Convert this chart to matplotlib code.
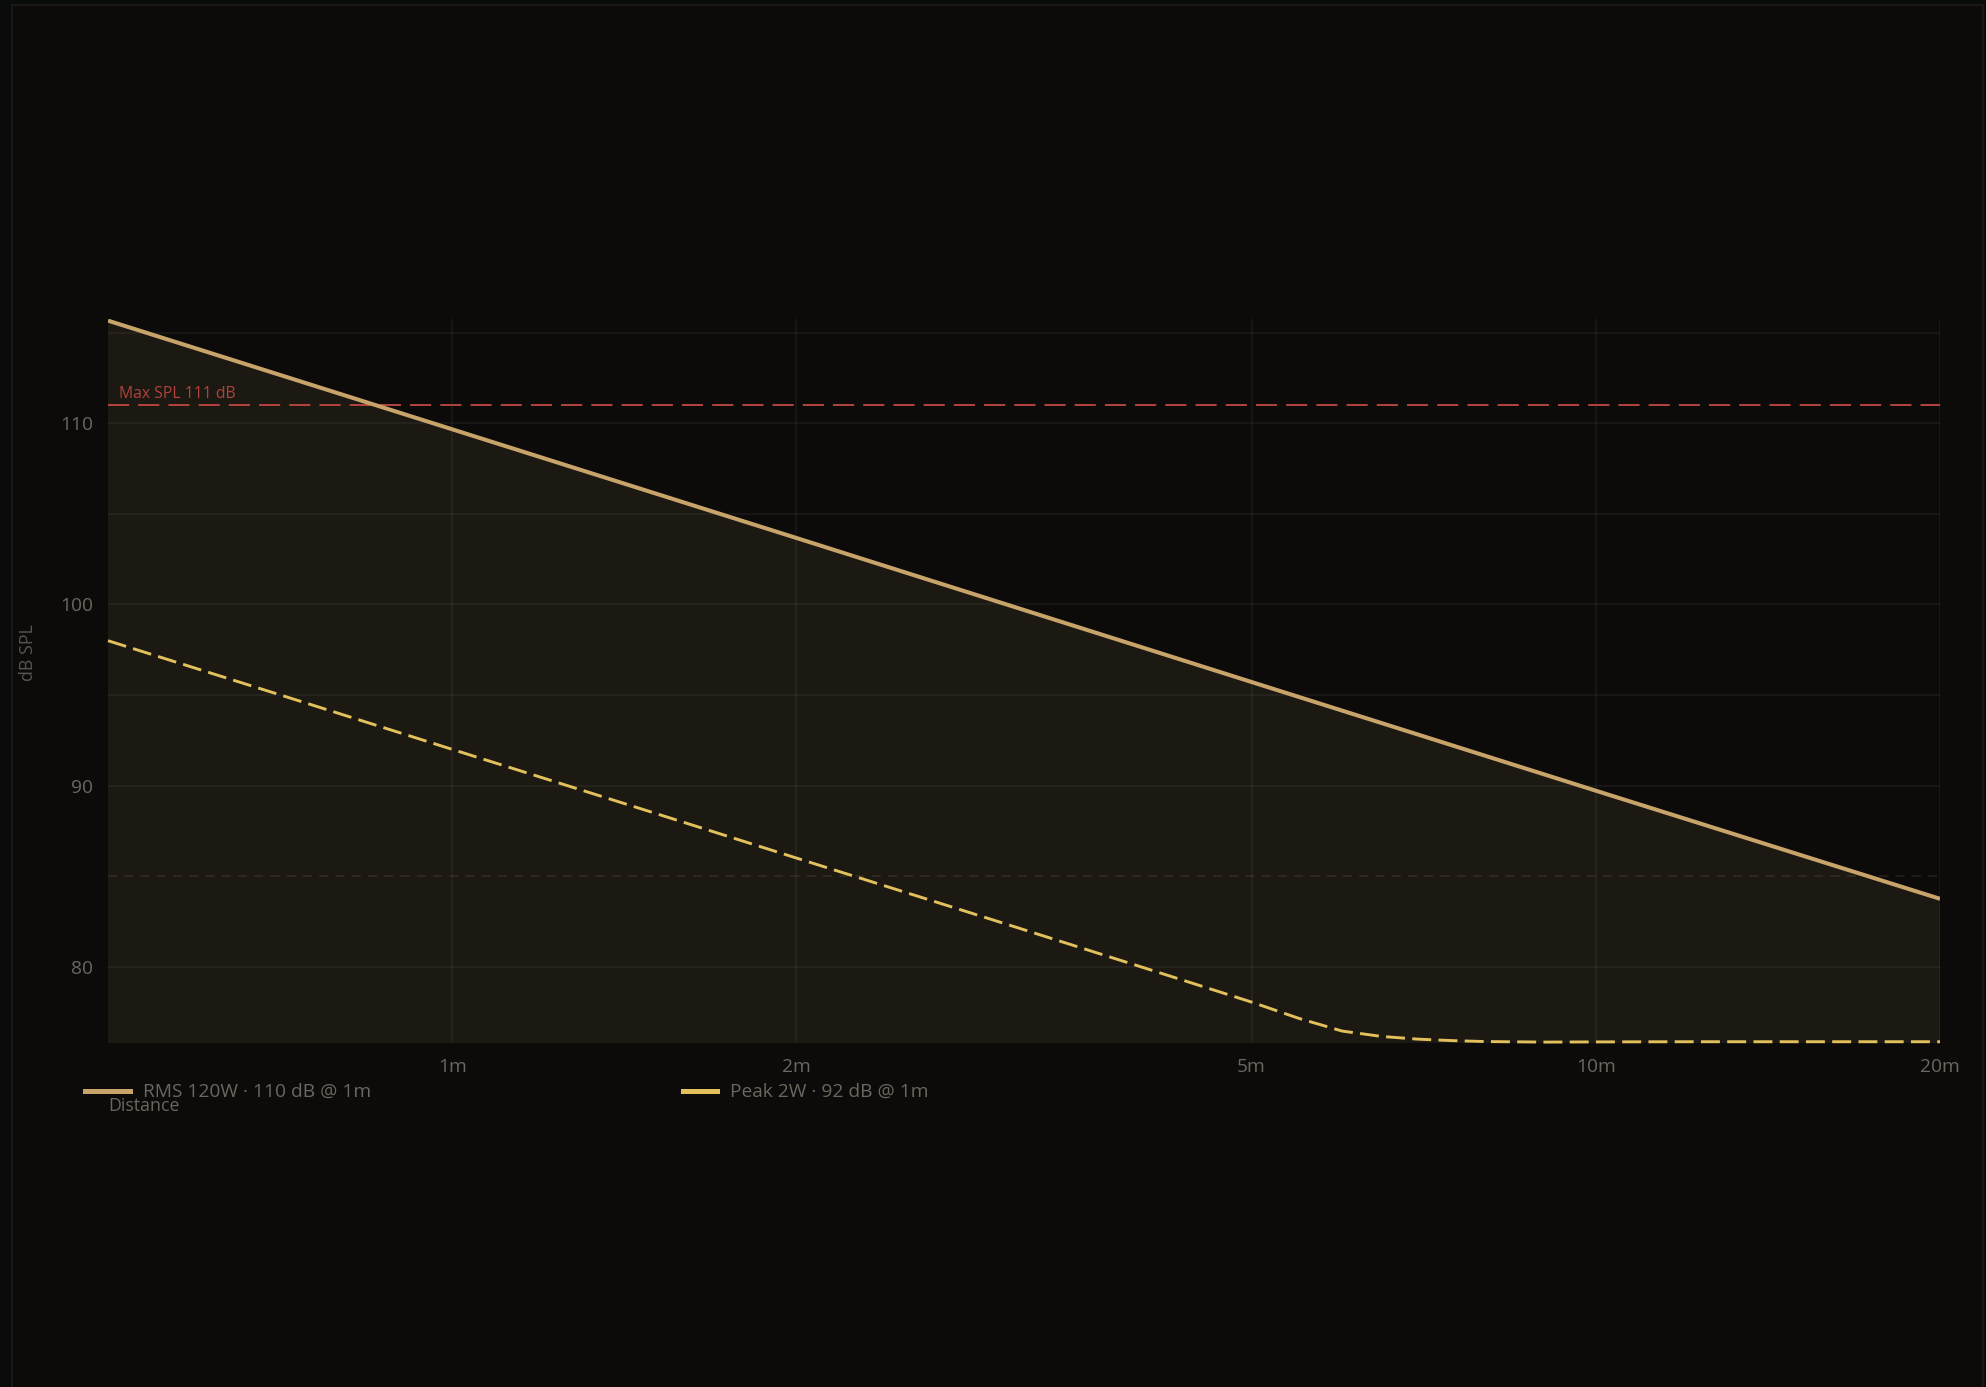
import matplotlib
matplotlib.use("Agg")
import matplotlib.pyplot as plt
from matplotlib.patches import Rectangle
from matplotlib.ticker import FixedLocator, FixedFormatter, NullLocator

plt.rcParams['font.family'] = ['Open Sans', 'DejaVu Sans']

# ---- data -------------------------------------------------------------
rms_distance_m = [0.5, 1, 2, 5, 10, 20]
rms_db = [115.67, 109.67, 103.67, 95.72, 89.72, 83.75]

peak_distance_m = [0.5, 0.75, 1, 1.5, 2, 3, 4, 5, 5.5, 6, 6.5, 7, 7.5, 8, 9, 10, 12, 15, 20]
peak_db = [98.0, 94.5, 92.0, 88.5, 86.0, 82.5, 80.0, 78.05, 77.15, 76.45, 76.15,
           76.0, 75.92, 75.87, 75.84, 75.85, 75.86, 75.86, 75.86]

max_spl_db = 111
reference_db = 85

x_ticks = [1, 2, 5, 10, 20]
x_tick_labels = ["1m", "2m", "5m", "10m", "20m"]
y_ticks = [80, 90, 100, 110]
y_minor_grid = [95, 105, 115]

rms_label = "RMS 120W · 110 dB @ 1m"
peak_label = "Peak 2W · 92 dB @ 1m"
max_label = "Max SPL 111 dB"
x_title = "Distance"
y_title = "dB SPL"

# ---- colours ----------------------------------------------------------
PAGE_BG = "#0a0b0b"
CARD_BG = "#0c0b0a"
CARD_EDGE = "#1a1815"
RMS_COLOR = "#c9a46a"
PEAK_COLOR = "#e2c05c"
MAX_COLOR = "#b0423d"
TEXT_COLOR = "#6b675f"

W, H = 1986, 1387
DPI = 100


def fig_xy(x, y):
    """Pixel position (from top-left) to figure fraction."""
    return x / W, 1 - y / H


fig = plt.figure(figsize=(W / DPI, H / DPI), dpi=DPI)
fig.patch.set_facecolor(PAGE_BG)

# card behind the chart
fig.add_artist(Rectangle(fig_xy(12, H + 20), (1983 - 12) / W, (H + 20 - 5) / H,
                         transform=fig.transFigure, facecolor=CARD_BG,
                         edgecolor=CARD_EDGE, linewidth=1.5, zorder=0))

ax = fig.add_axes([108 / W, 344 / H, 1832 / W, 724 / H])
ax.set_facecolor("none")
ax.set_xscale("log")
ax.set_xlim(0.5, 20)
ax.set_ylim(75.79, 115.76)

for s in ax.spines.values():
    s.set_visible(False)

ax.xaxis.set_major_locator(FixedLocator(x_ticks))
ax.xaxis.set_major_formatter(FixedFormatter(x_tick_labels))
ax.xaxis.set_minor_locator(NullLocator())
ax.yaxis.set_major_locator(FixedLocator(y_ticks))
ax.yaxis.set_minor_locator(FixedLocator(y_minor_grid))
ax.tick_params(axis="both", which="both", length=0, labelsize=13.8,
               labelcolor=TEXT_COLOR)
ax.tick_params(axis="y", pad=10.5)
ax.tick_params(axis="x", pad=10.8)
ax.grid(True, which="both", color="white", alpha=0.055, linewidth=1.2, zorder=1)
ax.set_axisbelow(True)

# RMS curve with shaded area beneath
ax.fill_between(rms_distance_m, rms_db, 0, color=RMS_COLOR, alpha=0.085,
                linewidth=0, zorder=0.5)
ax.plot(rms_distance_m, rms_db, color=RMS_COLOR, linewidth=2.9,
        solid_capstyle="butt", zorder=4)

# Peak curve
ax.plot(peak_distance_m, peak_db, color=PEAK_COLOR, linewidth=2.1,
        linestyle=(0, (6.5, 2.5)), zorder=4, clip_on=False)

# reference levels
ax.axhline(reference_db, color=RMS_COLOR, alpha=0.13, linewidth=1.3,
           linestyle=(0, (5, 4)), zorder=2)
ax.axhline(max_spl_db, color=MAX_COLOR, linewidth=1.45,
           linestyle=(0, (10.5, 4.5)), zorder=3)
ax.annotate(max_label, xy=(0.5, max_spl_db), xycoords="data",
            xytext=(11, 11), textcoords="offset pixels",
            ha="left", va="center", fontsize=11.3, color=MAX_COLOR)

# axis titles
fig.text(*fig_xy(108, 1106), x_title, ha="left", va="center",
         fontsize=12.8, color=TEXT_COLOR)
fig.text(*fig_xy(28, 653), y_title, ha="center", va="center", rotation=90,
         fontsize=12.8, color="#58544d")

# legend row
for x0, x1, color, label in [(83, 133, RMS_COLOR, rms_label),
                             (681, 720, PEAK_COLOR, peak_label)]:
    fig.add_artist(Rectangle(fig_xy(x0, 1093.5), (x1 - x0) / W, 5 / H,
                             transform=fig.transFigure, facecolor=color,
                             edgecolor="none"))
    fig.text(*fig_xy(x1 + 10, 1092), label, ha="left", va="center",
             fontsize=13.8, color=TEXT_COLOR)

fig.savefig("out.png", dpi=DPI, facecolor=PAGE_BG)
